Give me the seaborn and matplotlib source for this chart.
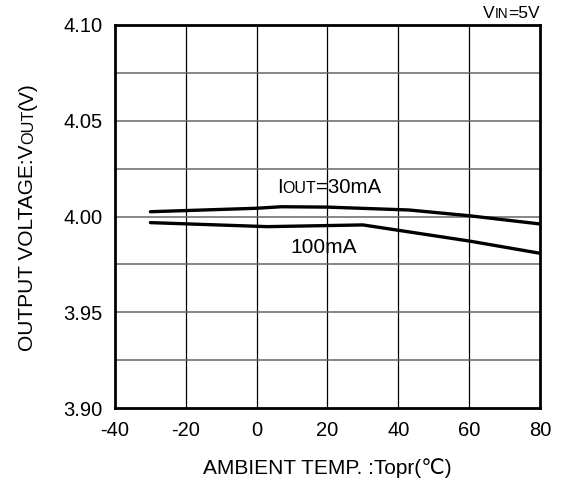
import matplotlib
matplotlib.use("Agg")
import matplotlib.pyplot as plt
import seaborn as sns
import pandas as pd

# ---- data ----
temp_30 = [-30, 0, 7, 20, 43, 60, 80]
vout_30 = [4.0025, 4.0043, 4.0051, 4.0049, 4.0034, 4.0004, 3.9961]
temp_100 = [-30, 3, 30, 60, 80]
vout_100 = [3.9968, 3.9947, 3.9956, 3.9872, 3.9808]
x_ticks = [-40, -20, 0, 20, 40, 60, 80]
y_ticks = [3.90, 3.95, 4.00, 4.05, 4.10]
y_minor = [3.925, 3.975, 4.025, 4.075]

sns.set_theme(style="white")
plt.rcParams['font.family'] = ['Liberation Sans', 'DejaVu Sans']

W, H = 562, 483
fig = plt.figure(figsize=(W / 100, H / 100), dpi=100)
ax = fig.add_axes([115 / W, 1 - 408 / H, (540 - 115) / W, (408 - 25) / H])

df = pd.concat([
    pd.DataFrame({"temp": temp_30, "vout": vout_30, "series": "30mA"}),
    pd.DataFrame({"temp": temp_100, "vout": vout_100, "series": "100mA"}),
])
sns.lineplot(data=df, x="temp", y="vout", units="series", estimator=None,
             color="black", linewidth=2.4, ax=ax, legend=False, zorder=5)

ax.set_xlim(-40, 80)
ax.set_ylim(3.90, 4.10)
ax.set_xticks(x_ticks)
ax.set_xticklabels([str(v) for v in x_ticks])
ax.set_yticks(y_ticks)
ax.set_yticklabels([f"{v:.2f}" for v in y_ticks])
ax.set_yticks(y_minor, minor=True)
ax.tick_params(axis='both', which='both', length=0, labelsize=14.5, colors='black')
ax.tick_params(axis='x', pad=9)
ax.tick_params(axis='y', pad=9)
for v in x_ticks[1:-1]:
    ax.axvline(v, color='black', lw=0.9, zorder=1)
for v in y_ticks[1:-1] + y_minor:
    ax.axhline(v, color='#666666', lw=1.1, zorder=1)
for s in ax.spines.values():
    s.set_visible(True)
    s.set_color('black')
    s.set_linewidth(2.0)
ax.set_xlabel("")
ax.set_ylabel("")

fig.canvas.draw()
renderer = fig.canvas.get_renderer()


def rich(x_px, y_px, parts, rotation=0, ha='left'):
    """parts: list of (text, size); (x_px, y_px) baseline anchor, pixels from top-left."""
    texts = []
    for s, size in parts:
        t = fig.text(0, 0, s, fontsize=size, color='black', rotation=rotation,
                     transform=fig.dpi_scale_trans, va='baseline', ha='left',
                     rotation_mode='anchor')
        texts.append(t)
    fig.canvas.draw()
    widths = []
    for t in texts:
        bb = t.get_window_extent(renderer)
        widths.append(bb.height if rotation == 90 else bb.width)
    total = sum(widths)
    start = 0
    if ha == 'center':
        start = -total / 2
    elif ha == 'right':
        start = -total
    pos = start
    for t, w in zip(texts, widths):
        if rotation == 90:
            t.set_position((x_px / 100, (H - y_px + pos) / 100))
        else:
            t.set_position(((x_px + pos) / 100, (H - y_px) / 100))
        pos += w


rich(540, 18, [("V", 12.5), ("IN", 9.8), ("=5V", 12.5)], ha='right')
rich(277, 193, [("I", 14.7), ("OUT", 11.5), ("=30mA", 14.7)])
rich(290, 253, [("100mA", 15)])
rich(327.5, 474, [("AMBIENT TEMP. :Topr(℃)", 15)], ha='center')
rich(33, 216.5, [("OUTPUT VOLTAGE:V", 15), ("OUT", 11.7), ("(V)", 15)], rotation=90, ha='center')

fig.savefig("out.png", dpi=100)
